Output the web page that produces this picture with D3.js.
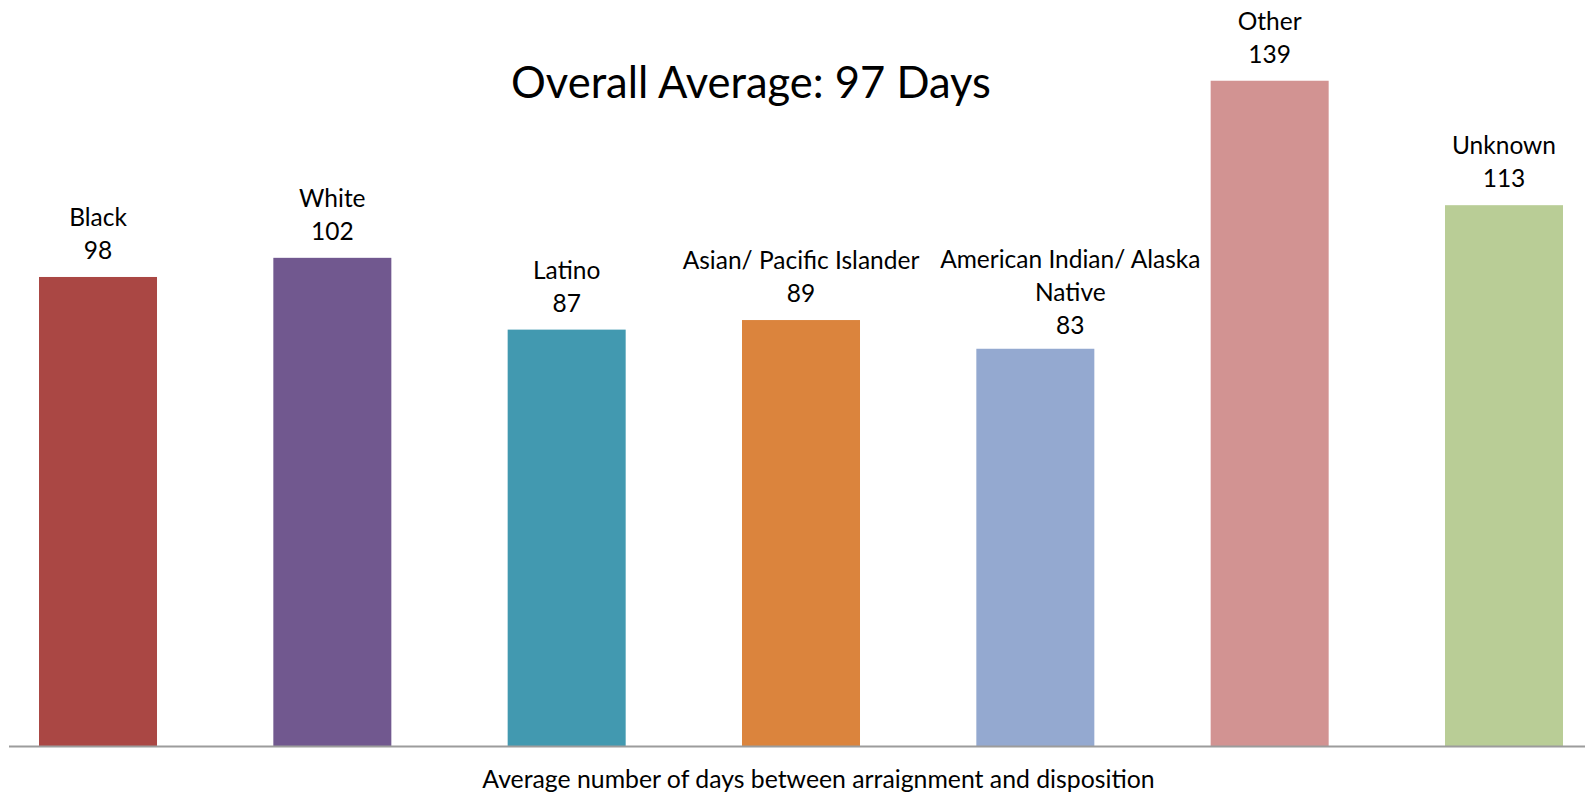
<!DOCTYPE html>
<html><head><meta charset="utf-8"><script src="https://cdn.jsdelivr.net/npm/d3@7"></script>
<style>body{margin:0;background:#fff}svg{display:block}text{font-family:Lato,"Open Sans",sans-serif;fill:#000}</style>
</head>
<body>
<svg id="chart" width="1585" height="794"></svg>
<script>
// Average days from arraignment to disposition, by race / ethnicity
const categories = ["Black", "White", "Latino", "Asian/ Pacific Islander", "American Indian/ Alaska Native", "Other", "Unknown"];
const avgDays = [98, 102, 87, 89, 83, 139, 113];
const barColors = ["#AA4744", "#71588F", "#4299B0", "#DB843D", "#94A9D0", "#D29392", "#B9CD96"];
const chartTitle = "Overall Average: 97 Days";
const axisTitle = "Average number of days between arraignment and disposition";

const data = categories.map((c, i) => ({ name: c, value: avgDays[i], color: barColors[i] }));

const svg = d3.select("#chart");
const baseY = 746;

const x = d3.scaleBand()
  .domain(categories)
  .range([39, 1563])
  .paddingInner(0.4964)
  .paddingOuter(0);

const y = d3.scaleLinear()
  .domain([0, 140])
  .range([baseY, baseY - 140 * 4.786]);

// bars
svg.append("g").selectAll("rect")
  .data(data)
  .join("rect")
  .attr("x", d => x(d.name))
  .attr("y", d => y(d.value))
  .attr("width", x.bandwidth())
  .attr("height", d => y(0) - y(d.value))
  .attr("fill", d => d.color);

// baseline axis (no ticks or labels)
const xAxis = d3.axisBottom(x).tickSize(0).tickFormat("");
const gx = svg.append("g").attr("transform", `translate(0,${baseY})`).call(xAxis);
gx.select(".domain").remove();
gx.append("line")
  .attr("x1", 9).attr("x2", 1585)
  .attr("y1", 0.5).attr("y2", 0.5)
  .attr("stroke", "#9c9c9c").attr("stroke-width", 2);

// wrap a label into lines no wider than maxW
function wrapLines(str, maxW, fontSize) {
  const probe = svg.append("text").attr("font-size", fontSize);
  const words = str.split(" ");
  const lines = [];
  let cur = "";
  words.forEach(w => {
    const test = cur ? cur + " " + w : w;
    probe.text(test);
    if (probe.node().getComputedTextLength() > maxW && cur) {
      lines.push(cur);
      cur = w;
    } else cur = test;
  });
  lines.push(cur);
  probe.remove();
  return lines;
}

// data labels: category name above value
const labelSize = 24.5;
const lineGap = 33;
// the wrapped label sits a little right of and closer to its bar
const labelShift = { "American Indian/ Alaska Native": { dx: 35, dy: 3 } };
const labels = svg.append("g").attr("text-anchor", "middle").attr("font-size", labelSize);
data.forEach(d => {
  const shift = labelShift[d.name] || { dx: 0, dy: 0 };
  const cx = x(d.name) + x.bandwidth() / 2 + shift.dx;
  const valY = y(d.value) - 18 + shift.dy;
  const lines = wrapLines(d.name, 270, labelSize);
  const t = labels.append("text").attr("x", cx);
  lines.concat([String(d.value)]).forEach((ln, k, all) => {
    t.append("tspan")
      .attr("x", cx)
      .attr("y", valY - (all.length - 1 - k) * lineGap)
      .text(ln);
  });
});

// chart title
svg.append("text")
  .attr("x", 751).attr("y", 97.5)
  .attr("text-anchor", "middle")
  .attr("font-size", 43.5)
  .text(chartTitle);

// axis title
svg.append("text")
  .attr("x", 818.5).attr("y", 788)
  .attr("text-anchor", "middle")
  .attr("font-size", 24.8)
  .text(axisTitle);
</script>
</body></html>
